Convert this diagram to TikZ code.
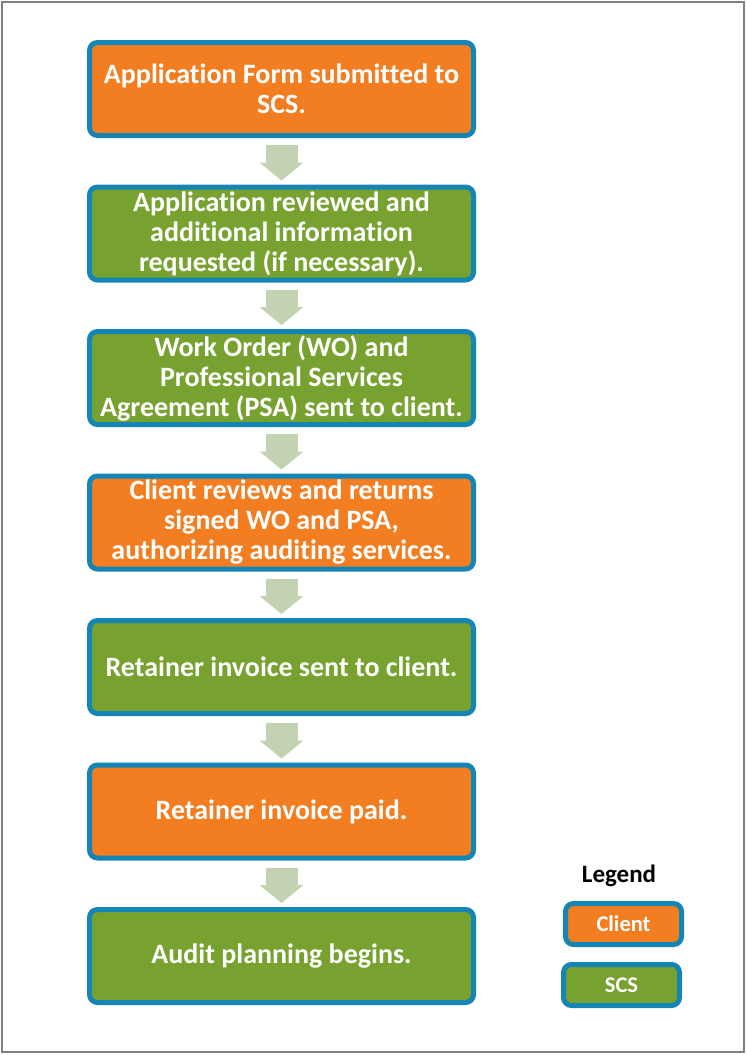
\documentclass[tikz,border=0pt]{standalone}
\usepackage{fontspec}
\setmainfont[Ligatures=NoCommon]{Carlito}
\usetikzlibrary{positioning, arrows.meta}
\definecolor{clientorange}{HTML}{F37E22}
\definecolor{scsgreen}{HTML}{77A22F}
\definecolor{edgeblue}{HTML}{1585B5}
\definecolor{arrowsage}{HTML}{C3D2B0}
\begin{document}
\begin{tikzpicture}[x=1pt, y=-1pt, node distance=46.5pt,
    stepbox/.style={draw=edgeblue, line width=5pt, rounded corners=8pt, minimum width=384pt, minimum height=93pt,
      text=white, align=center, font=\fontsize{28}{30}\selectfont\bfseries},
    client/.style={stepbox, fill=clientorange},
    scs/.style={stepbox, fill=scsgreen},
    keybox/.style={minimum width=116pt, minimum height=41pt, font=\fontsize{22.5}{24}\selectfont\bfseries},
    flow/.style={arrowsage, line width=32pt, -{Triangle[width=43pt, length=18pt]}, shorten <=7pt, shorten >=4pt}]
      \useasboundingbox (0,0) rectangle (747,1055);
      \draw[gray, line width=1.5pt] (2,2) rectangle (744,1052);
      % Flow Case
      \node[client] (form) at (281.5,89) {Application Form submitted to\\SCS.};
      \node[scs, below=of form] (review) {Application reviewed and\\additional information\\requested (if necessary).};
      \node[scs, below=of review] (order) {Work Order (WO) and\\Professional Services\\Agreement (PSA) sent to client.};
      \node[client, below=of order] (sign) {Client reviews and returns\\signed WO and PSA,\\authorizing auditing services.};
      \node[scs, below=of sign] (invoice) {Retainer invoice sent to client.};
      \node[client, below=of invoice] (paid) {Retainer invoice paid.};
      \node[scs, below=of paid] (audit) {Audit planning begins.};
      \foreach \a/\b in {form/review, review/order, order/sign, sign/invoice, invoice/paid, paid/audit}
        \draw[flow] (\a.south) -- (\b.north);
      % Legend
      \node[font=\fontsize{25}{28}\selectfont\bfseries] (legend) at (619,876) {Legend};
      \node[client, keybox] (keyclient) at (623.5,924) {Client};
      \node[scs, keybox] (keyscs) at (621.5,985) {SCS};
\end{tikzpicture}
\end{document}
